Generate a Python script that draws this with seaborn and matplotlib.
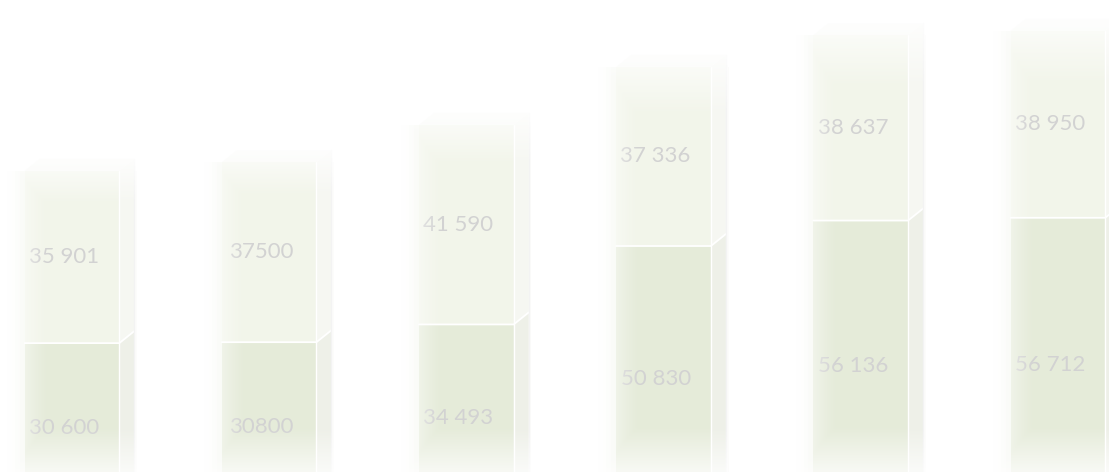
import matplotlib
matplotlib.use("Agg")
import matplotlib.pyplot as plt
from matplotlib.patches import Polygon
import seaborn as sns
import pandas as pd
import numpy as np

# values (bottom segment, top segment)
categories = ["1", "2", "3", "4", "5", "6"]
bottom_vals = [30600, 30800, 34493, 50830, 56136, 56712]
top_vals = [35901, 37500, 41590, 37336, 38637, 38950]
bottom_labels = ["30 600", "30800", "34 493", "50 830", "56 136", "56 712"]
top_labels = ["35 901", "37500", "41 590", "37 336", "38 637", "38 950"]

df = pd.DataFrame({"cat": categories, "bottom": bottom_vals, "top": top_vals})
df["total"] = df["bottom"] + df["top"]

sns.set_style("white")
plt.rcParams["font.family"] = ["Lato", "DejaVu Sans"]

fig = plt.figure(figsize=(11.09, 4.72), dpi=100)
ax = fig.add_axes([0, 0, 1, 1])

# the picture is a crop: the baseline sits just below the lower edge
xlim = (-0.365, 5.259)
ylim = (3750, 102083)
ax.set_xlim(xlim)
ax.set_ylim(ylim)

bar_w = 0.48
top_col = "#f2f5ea"
bot_col = "#e5ebd9"

# soft halo around each column
for k, a in [(0.66, 0.25), (0.58, 0.4), (0.53, 0.6)]:
    sns.barplot(data=df, x="cat", y="total", color="#f5f7f0", width=k, alpha=a,
                saturation=1, ax=ax, edgecolor="none")

sns.barplot(data=df, x="cat", y="total", color=top_col, width=bar_w,
            saturation=1, ax=ax, edgecolor="none")
sns.barplot(data=df, x="cat", y="bottom", color=bot_col, width=bar_w,
            saturation=1, ax=ax, edgecolor="none")

# depth of the 3d side face, 15 px right and 12 px up, in data units
ddx = 15 / 1109 * (xlim[1] - xlim[0])
ddy = 12 / 472 * (ylim[1] - ylim[0])

for i, row in df.iterrows():
    xr = i + bar_w / 2
    xl = i - bar_w / 2
    for y0, y1, c in [(ylim[0] - ddy, row["bottom"], "#eef0e8"), (row["bottom"], row["total"], "#f6f7f2")]:
        ax.add_patch(Polygon([[xr, y0], [xr, y1], [xr + ddx, y1 + ddy], [xr + ddx, y0 + ddy]],
                             closed=True, facecolor=c, edgecolor="none"))
    # top face
    ax.add_patch(Polygon([[xl, row["total"]], [xr, row["total"]],
                          [xr + ddx, row["total"] + ddy], [xl + ddx, row["total"] + ddy]],
                         closed=True, facecolor="#f8f9f5", edgecolor="none"))
    # white edges
    ax.plot([xl, xr, xr + ddx], [row["bottom"], row["bottom"], row["bottom"] + ddy],
            color="white", lw=1.3)
    ax.plot([xr, xr], [ylim[0], row["total"]], color="white", lw=1.0)
    ax.plot([xr + ddx, xr + ddx], [ylim[0], row["total"] + ddy], color="#f3f3f3", lw=1.0)

    # labels sit under the fade so their left digits wash out
    ax.text(i - 0.04, row["bottom"] / 2 - 2300, bottom_labels[i], ha="center", va="center",
            fontsize=16, color="#d2d2d2", zorder=2.9)
    ax.text(i - 0.04, row["bottom"] + row["top"] / 2, top_labels[i], ha="center", va="center",
            fontsize=16, color="#d2d2d2", zorder=2.9)

    # fade the column towards white on the left, at the top and at the bottom
    nx, ny = 60, 120
    gx = np.linspace(0, 1, nx)
    gy = np.linspace(0, 1, ny)[:, None]
    h_fade = np.clip(1 - gx / 0.32, 0, 1) ** 1.3 * 0.85
    top_y = row["total"] + ddy
    span = top_y - ylim[0]
    yy = ylim[0] + gy * span
    v_top = np.clip((yy - (top_y - 0.15 * span)) / (0.15 * span), 0, 1) * 0.85
    v_bot = np.clip(1 - (yy - ylim[0]) / 9000, 0, 1) * 0.7
    alpha = np.maximum(np.maximum(h_fade[None, :], v_top), v_bot)
    rgba = np.ones((ny, nx, 4))
    rgba[..., 3] = alpha
    ax.imshow(rgba, extent=(xl - 0.09, xr + ddx + 0.01, ylim[0], top_y + 0.01 * span),
              origin="lower", aspect="auto", zorder=3, interpolation="bilinear")

ax.set_xlim(xlim)
ax.set_ylim(ylim)
ax.set_xlabel("")
ax.set_ylabel("")
ax.set_xticks([])
ax.set_yticks([])
sns.despine(ax=ax, left=True, bottom=True)

fig.savefig("out.png", dpi=100, facecolor="white")
